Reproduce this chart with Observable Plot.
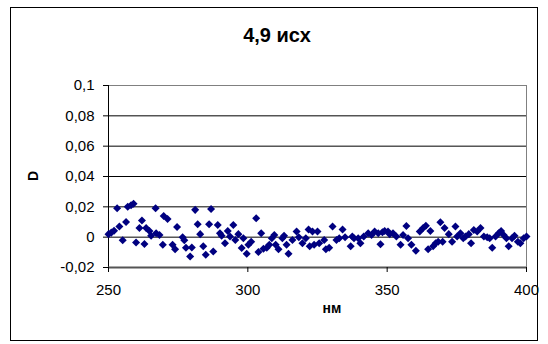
<!DOCTYPE html>
<html>
<head>
<meta charset="utf-8">
<script src="https://cdn.jsdelivr.net/npm/d3@7"></script>
<script src="https://cdn.jsdelivr.net/npm/@observablehq/plot@0.6"></script>
<style>
  html, body { margin: 0; padding: 0; background: #fff; }
  #wrap { position: relative; width: 548px; height: 344px; overflow: hidden; font-family: "Liberation Sans", Arial, sans-serif; }
  #frame { position: absolute; left: 10px; top: 7px; width: 528px; height: 334px; border: 1px solid #000; box-sizing: border-box; }
  .lbl { position: absolute; transform: translate(-50%, -50%); white-space: nowrap; line-height: 1; font-weight: bold; color: #000; }
  #chart { position: absolute; left: 0; top: 0; }
</style>
</head>
<body>
<div id="wrap">
  <div id="frame"></div>
  <div id="chart"></div>
  <div class="lbl" id="title" style="left:277px; top:35px; font-size:20px;">4,9 исх</div>
  <div class="lbl" id="xlab" style="left:332px; top:308px; font-size:14px;">нм</div>
  <div class="lbl" id="ylab" style="left:33px; top:176px; font-size:14px; transform: translate(-50%,-50%) rotate(-90deg);">D</div>
</div>
<script>
const nm = [
  250.0, 251.0, 252.0, 253.1, 253.9, 255.1, 256.3, 256.9, 258.1, 259.0,
  259.9, 261.1, 262.0, 262.9, 263.5, 264.7, 265.3, 266.9, 267.1, 268.3,
  269.5, 269.8, 271.2, 273.0, 273.9, 274.6, 276.6, 277.2, 277.8, 279.3,
  279.9, 281.1, 282.0, 282.9, 284.0, 284.9, 286.1, 286.8, 287.6, 289.2,
  290.0, 290.6, 291.8, 292.8, 293.6, 294.8, 295.5, 296.6, 297.8, 298.4,
  299.6, 300.2, 301.2, 303.0, 303.8, 304.8, 305.6, 306.8, 307.7, 308.6,
  309.5, 310.0, 311.0, 312.4, 313.0, 313.9, 314.6, 316.0, 317.5, 318.3,
  319.6, 320.8, 321.8, 322.2, 323.2, 323.8, 325.0, 325.6, 327.4, 328.0,
  329.2, 330.4, 331.8, 332.8, 334.0, 334.9, 336.9, 337.5, 338.1, 339.6,
  340.4, 341.6, 343.2, 344.4, 345.5, 346.8, 347.6, 348.3, 349.1, 350.3,
  350.9, 352.1, 353.3, 354.8, 355.7, 356.9, 357.5, 358.7, 360.3, 361.7,
  362.9, 363.9, 364.7, 365.5, 366.5, 367.4, 368.3, 369.1, 369.9, 370.6,
  372.1, 373.3, 374.5, 375.1, 376.3, 377.3, 378.1, 379.3, 380.1, 381.1,
  382.3, 383.5, 384.7, 385.9, 386.8, 387.7, 388.9, 390.0, 390.9, 391.8,
  392.8, 393.6, 394.8, 395.7, 396.9, 397.8, 399.0, 400.0
];
const D = [
  0.0020, 0.0030, 0.0043, 0.0190, 0.0070, -0.0020, 0.0100, 0.0200, 0.0210, 0.0220,
  -0.0035, 0.0060, 0.0110, -0.0045, 0.0060, 0.0040, 0.0010, 0.0190, 0.0026, 0.0015,
  -0.0050, 0.0140, 0.0120, -0.0050, -0.0080, 0.0067, 0.0000, -0.0020, -0.0070, -0.0127,
  -0.0068, 0.0180, 0.0085, 0.0020, -0.0060, -0.0116, 0.0085, 0.0185, -0.0094, 0.0080,
  0.0026, 0.0010, -0.0040, 0.0040, 0.0004, 0.0080, -0.0018, 0.0020, -0.0072, -0.0007,
  -0.0110, -0.0050, -0.0030, 0.0124, -0.0098, 0.0026, -0.0076, -0.0070, -0.0050, -0.0007,
  0.0015, -0.0050, -0.0080, -0.0007, 0.0010, -0.0050, -0.0110, -0.0018, 0.0037, 0.0000,
  -0.0040, -0.0007, 0.0050, -0.0060, 0.0037, -0.0050, 0.0037, -0.0040, -0.0018, -0.0080,
  -0.0070, 0.0070, -0.0018, -0.0007, 0.0050, 0.0000, -0.0060, 0.0004, -0.0007, -0.0007,
  -0.0040, 0.0004, 0.0026, 0.0015, 0.0037, 0.0026, -0.0046, 0.0033, 0.0040, 0.0037,
  0.0020, 0.0026, 0.0004, -0.0050, 0.0015, 0.0074, -0.0007, -0.0050, -0.0090, 0.0037,
  0.0060, 0.0076, -0.0080, 0.0040, -0.0060, -0.0040, -0.0030, 0.0098, -0.0030, 0.0060,
  0.0020, -0.0030, 0.0070, 0.0004, 0.0026, -0.0007, 0.0004, 0.0020, -0.0040, 0.0048,
  0.0037, 0.0060, 0.0004, 0.0000, -0.0007, -0.0070, 0.0004, 0.0026, 0.0040, 0.0015,
  -0.0007, -0.0060, -0.0007, 0.0010, -0.0030, -0.0040, -0.0007, 0.0004
];
const xTicks = [250, 300, 350, 400];
const yTicks = [-0.02, 0, 0.02, 0.04, 0.06, 0.08, 0.1];
const gridValues = [0, 0.02, 0.04, 0.06, 0.08];

const data = nm.map((x, i) => ({x, y: D[i]}));
const fmt = d => String(+d.toFixed(2)).replace(".", ",");
const diamond = {
  draw(ctx, size) {
    const h = Math.sqrt(size / 2);
    ctx.moveTo(0, -h); ctx.lineTo(h, 0); ctx.lineTo(0, h); ctx.lineTo(-h, 0); ctx.closePath();
  }
};

const chart = Plot.plot({
  width: 548,
  height: 344,
  marginLeft: 108,
  marginRight: 22,
  marginTop: 85,
  marginBottom: 77,
  style: {fontFamily: '"Liberation Sans", Arial, sans-serif', fontSize: "15px", background: "transparent", color: "#000"},
  x: {domain: [250, 400], label: null},
  y: {domain: [-0.02, 0.1], label: null},
  marks: [
    Plot.ruleY(gridValues, {stroke: "#000", strokeWidth: 1}),
    Plot.frame({stroke: "#808080", strokeWidth: 1}),
    Plot.ruleX([250], {stroke: "#000", strokeWidth: 1}),
    Plot.ruleY([-0.02], {stroke: "#555", strokeWidth: 2}),
    Plot.axisY({ticks: yTicks, tickFormat: fmt, tickSize: 5, tickPadding: 9, fontSize: 15, stroke: "#000", label: null}),
    Plot.axisX({ticks: xTicks, tickFormat: d => String(d), tickSize: 5, tickPadding: 12, fontSize: 15, stroke: "#000", label: null}),
    Plot.dot(data, {x: "x", y: "y", symbol: diamond, r: 3.2, fill: "#000080", stroke: "none"})
  ]
});
document.getElementById("chart").appendChild(chart);
</script>
</body>
</html>
